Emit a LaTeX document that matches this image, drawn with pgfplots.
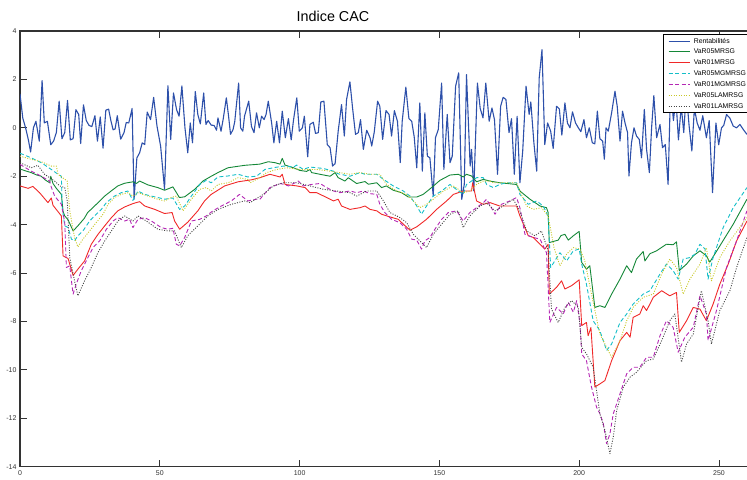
\documentclass[border=0pt]{standalone}
\usepackage{pgfplots}
\pgfplotsset{compat=1.18}
\usepackage{fontspec}
\setmainfont{Liberation Sans}
\definecolor{cblue}{RGB}{45,80,170}
\definecolor{cgreen}{RGB}{20,135,55}
\definecolor{cred}{RGB}{240,40,40}
\definecolor{ccyan}{RGB}{20,190,200}
\definecolor{cmag}{RGB}{180,40,180}
\definecolor{cyel}{RGB}{200,200,40}
\definecolor{cgray}{RGB}{70,70,70}
\begin{document}
\begin{tikzpicture}
\begin{axis}[
  at={(20bp,13.3bp)}, anchor=south west,
  scale only axis, width=754.9bp, height=435.7bp,
  xmin=0, xmax=270, ymin=-14, ymax=4,
  xtick={0,50,...,250}, ytick={-14,-12,...,4},
  tick align=inside, major tick length=7bp,
  axis line style={line width=1.3bp, black!80},
  every tick/.style={black!80, line width=0.8bp},
  tick label style={font=\fontsize{7}{8}\selectfont, black!80},
  /pgf/number format/assume math mode=true,
  title={Indice CAC},
  title style={at={(axis description cs:0.4146,1)}, anchor=south, yshift=0bp, font=\fontsize{14.4}{16}\selectfont},
  legend cell align=left,
  legend image code/.code={\draw[#1, line width=1bp] (0bp,0bp) -- (21.6bp,0bp);},
  legend style={at={(axis description cs:0.8518,0.993)}, anchor=north west, draw=black, line width=1bp, fill=white,
    font=\fontsize{6.9}{8}\selectfont, inner xsep=4.7bp, inner ysep=3bp,
    nodes={inner sep=0pt, text height=5.5bp, text depth=1.5bp}, row sep=3.9bp, column sep=3bp},
  every axis plot/.append style={line join=round},
]
\addplot[cblue, line width=1.1bp] coordinates {
(0,1.4)(1,0.4)(2,0.0)(3,-0.5)(3.8,-1.0)(4.8,0.0)(5.7,0.27)(6.9,-0.55)(7.9,1.95)(8.7,0.2)(9.8,0.27)(11,-0.7)(12,-0.55)(13,-0.2)(14,1.1)(15,-0.45)(16,-0.2)(17,1.13)(18,-0.5)(19,-0.45)(20,0.75)(21,0.55)(21.7,-0.65)(22.7,0.95)(23.7,0.3)(24.7,0.1)(25.7,0.05)(26.8,0.5)(27.7,-0.55)(28.7,0.45)(29.7,-0.84)(30.7,0.73)(31.7,0.77)(32.5,0.3)(33.3,-0.08)(34,-0.05)(34.8,0.5)(36,-0.47)(37.2,-0.2)(38,0.22)(38.9,0.2)(40.1,0.8)(40.8,-2.95)(41.8,-1.24)(42.8,-1.03)(43.7,-0.62)(44.6,-0.69)(45.5,0.65)(46.7,0.34)(47.8,1.26)(49,0.07)(50.3,-0.76)(51.7,-2.54)(52.9,1.74)(53.9,-0.48)(54.9,1.44)(56,0.75)(56.9,0.48)(57.9,1.73)(59,0.0)(60,-1.03)(60.9,0.2)(61.7,-0.62)(62.7,1.5)(63.6,0.55)(64.5,0.16)(65.7,1.44)(66.5,0.14)(67.3,0.3)(68.4,0.11)(69.4,0.1)(70.3,-0.1)(70.8,0.41)(71.9,-0.14)(72.7,0.38)(73.8,1.24)(74.6,0.48)(75.3,-0.27)(76.2,-0.07)(76.8,0.25)(78.2,1.85)(78.9,0.0)(79.7,-0.14)(80.3,0.48)(81.8,1.1)(82.8,0.05)(83.7,-0.2)(84.6,0.62)(85.6,0.0)(86.4,0.48)(87.3,0.34)(88,0.55)(88.8,1.1)(90,0.2)(90.8,-0.62)(91.8,0.27)(92.8,-0.62)(93.8,0.69)(94.9,-0.41)(96,0.38)(97,-0.5)(97.8,0.3)(99,1.24)(99.9,-0.14)(101,0.0)(101.7,0.48)(102.9,-1.2)(103.7,0.14)(104.9,0.23)(105.7,-0.23)(106.7,-0.2)(107.6,1.07)(108.7,1.1)(109.9,-0.69)(110.9,-0.82)(111.8,-1.58)(112.7,-1.48)(113.8,-0.14)(115,0.96)(116,-0.34)(116.8,1.17)(118,1.9)(119,0.76)(120,-0.27)(121,-0.2)(121.8,0.34)(122.8,-0.89)(124,-0.1)(125.2,-0.41)(125.8,-0.75)(126.7,-0.18)(127.9,1.1)(128.7,0.89)(129.7,-0.48)(130.9,0.71)(132,0.55)(132.9,-0.34)(133.9,0.71)(135,0.27)(136,-1.44)(136.7,0.27)(138,1.68)(139.1,0.38)(140.1,0.27)(141,-0.38)(141.9,-1.65)(143,1.03)(143.9,-1.79)(144.8,0.62)(145.7,-1.17)(146.6,-1.24)(147.8,-2.82)(148.6,-0.41)(149.6,-0.07)(150.8,1.85)(151.6,-1.72)(152.8,0.55)(153.8,-1.44)(154.6,-1.17)(155.8,1.72)(156.9,2.27)(158,-2.95)(158.9,-2.34)(159.7,2.2)(161,-1.58)(161.5,-0.89)(162.3,-2.6)(163.6,1.85)(164.6,0.8)(165.6,0.41)(166.6,1.85)(167.8,0.27)(168.8,0.82)(169.7,0.34)(170.8,-1.92)(171.9,0.89)(172.8,1.26)(173.8,1.17)(174.9,-0.2)(175.8,0.38)(176.8,-1.92)(177.8,0.48)(178.8,-2.27)(179.8,-0.96)(181,1.72)(182.1,0.55)(182.7,1.07)(183.8,-0.62)(184.8,-1.79)(185.7,2.06)(186.7,3.23)(187.7,-0.69)(188.7,0.2)(189.8,-0.14)(190.7,-0.85)(191.9,0.89)(192.9,0.78)(193.8,-0.3)(194.9,1.03)(195.8,0.2)(196.7,0.0)(197.6,0.66)(198.7,0.2)(199.7,0.0)(200.6,-0.16)(201.7,0.34)(202.6,-0.41)(203.6,0.0)(204.7,-0.62)(205.6,-0.66)(206.5,0.69)(207.4,-0.45)(208.4,-0.55)(209,-1.3)(209.6,0.0)(210.4,-0.14)(211.6,0.62)(212.8,1.51)(213.6,0.89)(214.6,-0.55)(215.5,0.69)(216.4,0.2)(217.3,-0.2)(217.8,-1.99)(218.7,-0.62)(219.6,0.0)(220.5,-0.34)(221.5,-0.48)(222.3,-1.24)(223.3,0.76)(224.1,-0.89)(225.1,-1.85)(225.9,0.0)(226.7,1.33)(227.7,-0.41)(228.9,0.14)(229.8,-0.82)(230.8,-0.69)(231.8,-2.34)(232.7,1.72)(233.7,0.3)(234.6,1.2)(235.5,-0.5)(236.5,0.9)(237.4,-0.2)(238.3,1.5)(239.3,0.1)(240.3,-0.96)(241.2,0.8)(242.2,0.2)(243.2,-0.1)(244.2,0.5)(245.5,-0.41)(246.5,0.3)(247.7,-2.68)(248.9,0.2)(249.9,-0.7)(250.9,0.0)(251.7,0.1)(252.7,0.55)(253.9,0.4)(255.1,0.07)(256.3,0.0)(257.5,0.14)(258.7,-0.07)(260,-0.27)
};
\addlegendentry{Rentabilités}
\addplot[cgreen, line width=0.9bp] coordinates {
(0,-1.7)(2,-1.78)(4,-1.85)(6,-1.95)(7.6,-2.0)(9,-2.15)(10.6,-2.27)(11,-2.0)(11.8,-2.3)(13,-2.5)(14.8,-2.75)(15.4,-3.45)(16,-3.64)(17.2,-3.8)(19,-4.26)(20.7,-4.05)(23,-3.74)(24.2,-3.5)(25.5,-3.36)(27.3,-3.16)(30.3,-2.82)(32.7,-2.6)(35,-2.4)(37.4,-2.29)(40.4,-2.23)(41.6,-2.3)(42.8,-2.2)(45.8,-2.36)(49.3,-2.47)(51.7,-2.58)(54.7,-2.44)(57,-2.88)(58.9,-2.85)(62.5,-2.54)(65.4,-2.2)(68.4,-2.0)(70.8,-1.85)(74.4,-1.65)(80.3,-1.55)(85.8,-1.5)(88.8,-1.4)(91.2,-1.44)(93,-1.5)(93.8,-1.26)(94.8,-1.54)(97.8,-1.65)(100.1,-1.76)(102.5,-1.8)(103.7,-1.72)(104.3,-1.85)(107.3,-1.92)(110.9,-2.0)(112.7,-1.85)(113.8,-2.06)(116.2,-2.2)(117.4,-2.06)(120.4,-2.3)(123.4,-2.22)(124.6,-2.33)(127.6,-2.27)(129.3,-2.47)(131,-2.4)(133.5,-2.58)(136.5,-2.68)(138.9,-2.86)(141.9,-2.86)(144.2,-2.75)(147.2,-2.47)(150.2,-2.17)(153.8,-1.95)(156.8,-1.92)(158.5,-2.03)(159.7,-1.92)(161.5,-1.99)(163.3,-2.23)(165.7,-2.13)(168.1,-2.2)(171.6,-2.27)(177.6,-2.34)(178.8,-2.61)(182.4,-2.95)(186,-3.23)(188.3,-3.3)(188.9,-3.5)(189.3,-4.74)(192.5,-4.64)(193.5,-4.45)(194.9,-4.4)(196.1,-4.64)(197.9,-4.46)(200,-4.28)(200.9,-5.56)(202.6,-5.84)(203.8,-5.7)(205.6,-7.42)(207.4,-7.35)(209.2,-7.42)(211.6,-6.87)(214.6,-6.25)(217,-5.7)(218.7,-5.98)(220.5,-5.42)(222.9,-5.11)(223.5,-5.5)(225.3,-5.2)(227.7,-5.08)(231.2,-4.81)(233.6,-4.83)(234.8,-4.71)(235.8,-5.9)(238.4,-5.63)(240.8,-5.29)(243.2,-5.08)(245.5,-5.29)(246.7,-5.55)(250.3,-4.88)(255.1,-3.98)(260,-2.95)
};
\addlegendentry{VaR05MRSG}
\addplot[cred, line width=0.9bp] coordinates {
(0,-2.4)(2.9,-2.5)(4.6,-2.42)(7,-2.68)(10,-3.09)(11.2,-2.9)(11.8,-3.2)(14.8,-3.64)(15.4,-5.29)(17.2,-5.4)(19,-6.1)(20.7,-5.84)(23.1,-5.5)(25.5,-4.81)(27.9,-4.4)(30.3,-4.05)(32.7,-3.71)(35,-3.43)(37.4,-3.27)(40.4,-3.13)(42.8,-3.05)(44.6,-3.23)(48.2,-3.37)(51.7,-3.54)(54.4,-3.5)(55.3,-3.85)(57.1,-4.19)(60,-3.9)(63.6,-3.43)(66,-3.02)(68.4,-2.75)(73.2,-2.4)(78,-2.23)(82.7,-2.15)(85.8,-2.06)(89.4,-1.92)(93,-2.03)(93.8,-1.92)(94.8,-2.34)(99,-2.4)(102,-2.47)(103.7,-2.68)(106.1,-2.68)(109.7,-2.88)(112.1,-3.02)(113.8,-2.95)(115,-3.23)(118,-3.37)(121.6,-3.3)(123.4,-3.23)(125.2,-3.37)(127.6,-3.43)(129.3,-3.57)(132.3,-3.68)(135.3,-3.78)(137.1,-3.98)(139.5,-4.23)(141.9,-4.09)(145.4,-3.78)(149,-3.37)(152.6,-3.02)(155,-2.75)(158.5,-2.61)(161.5,-2.61)(161.9,-2.27)(163.3,-3.02)(165.7,-3.16)(168.1,-3.09)(171.6,-3.23)(174,-3.23)(177.6,-3.23)(178.8,-3.64)(181.8,-4.46)(183.6,-4.53)(186,-4.81)(187.7,-5.01)(188.9,-4.81)(189.3,-6.87)(191.9,-6.59)(193.7,-6.32)(194.9,-6.66)(197.3,-6.52)(200,-6.28)(200.9,-8.17)(202.6,-8.04)(203.2,-8.59)(204.2,-8.25)(205.6,-10.71)(207.4,-10.58)(209.2,-10.44)(211.6,-9.62)(214.6,-8.79)(217,-8.45)(218.2,-8.65)(219.3,-7.83)(221.7,-7.69)(222.9,-7.35)(224.1,-7.55)(226.5,-7.0)(229.5,-6.73)(232.4,-6.94)(234.8,-6.8)(235.8,-8.45)(238.4,-7.97)(240.8,-7.42)(243.2,-7.49)(245.5,-7.97)(247.9,-7.28)(250.3,-6.46)(253.3,-5.63)(256.3,-4.67)(260,-3.85)
};
\addlegendentry{VaR01MRSG}
\addplot[ccyan, line width=0.9bp, dash pattern=on 4bp off 2.5bp] coordinates {
(0,-1.05)(4,-1.24)(7.6,-1.44)(11.2,-1.72)(13.6,-1.92)(14.8,-2.0)(15.1,-3.3)(16,-4.05)(17.2,-4.12)(18.4,-4.6)(19.5,-4.67)(20.7,-4.46)(22.5,-4.26)(24.9,-3.85)(27.3,-3.57)(29.1,-3.37)(30.9,-3.09)(33.8,-2.82)(36.2,-2.68)(38.6,-2.61)(40.4,-3.0)(42.2,-2.61)(44.6,-2.75)(47,-2.82)(49.3,-2.88)(51.7,-2.95)(54.7,-2.9)(57.1,-3.37)(58.9,-3.23)(61.3,-2.82)(64.3,-2.34)(66.6,-2.17)(68.4,-2.27)(70.8,-2.03)(74.4,-1.99)(78,-1.92)(81.5,-2.03)(84.6,-2.0)(87.6,-1.72)(90.6,-1.65)(94.2,-1.58)(97.8,-1.62)(99,-1.54)(101.3,-1.72)(103.7,-1.62)(108.5,-1.68)(112.1,-1.79)(113.8,-1.9)(118,-2.0)(121.6,-1.85)(123.4,-1.92)(127.6,-1.92)(130,-2.13)(133.5,-2.4)(137.1,-2.61)(139.5,-2.82)(141.9,-3.23)(143.6,-3.57)(145.4,-3.23)(147.8,-2.82)(150.8,-2.61)(153.8,-2.34)(156.8,-2.61)(158.5,-2.75)(159.7,-2.34)(163.3,-2.06)(165.7,-2.06)(166.9,-2.34)(169.3,-2.47)(171.6,-2.34)(174,-2.27)(177.6,-2.27)(178.8,-2.75)(181.8,-3.16)(184.8,-3.02)(187.1,-3.23)(188.3,-3.5)(188.9,-3.71)(189.8,-5.77)(193.1,-5.16)(195.5,-5.5)(197.9,-5.08)(200,-5.01)(200.9,-5.63)(202.6,-6.46)(205,-7.97)(207.4,-8.38)(209.8,-9.2)(211.6,-8.93)(214.6,-8.04)(217,-7.69)(219.3,-7.28)(222.9,-6.87)(225.3,-6.73)(228.9,-6.04)(231.2,-5.63)(233.6,-5.9)(235.4,-6.25)(237.2,-5.42)(239.6,-5.36)(241.4,-5.22)(243.2,-4.81)(245,-5.0)(246.1,-6.25)(247.9,-5.36)(251.5,-4.12)(255.1,-3.3)(260,-2.47)
};
\addlegendentry{VaR05MGMRSG}
\addplot[cmag, line width=0.9bp, dash pattern=on 4bp off 2.5bp] coordinates {
(0,-1.51)(4,-1.79)(7.6,-2.0)(10.6,-2.2)(11.2,-2.45)(12.4,-2.82)(14.8,-3.16)(16,-3.91)(16.6,-5.77)(17.8,-5.7)(18.4,-6.32)(19,-6.87)(20.1,-6.46)(21.9,-5.91)(24.3,-5.36)(26.1,-4.95)(28.5,-4.67)(30.9,-4.19)(33.3,-3.85)(35,-3.71)(37.4,-3.85)(39.2,-3.78)(40.4,-4.12)(42.2,-3.78)(44.6,-3.71)(47,-3.85)(50.5,-4.12)(52.9,-4.19)(54.7,-4.15)(55.9,-4.81)(57.1,-4.88)(58.9,-4.53)(61.3,-3.85)(64.3,-3.78)(66.6,-3.64)(69,-3.43)(72,-3.23)(75.6,-3.02)(78.5,-2.75)(81.5,-3.02)(84.5,-2.95)(85.8,-2.95)(89.4,-2.47)(93,-2.3)(94.2,-2.33)(96,-2.4)(98.4,-2.27)(99.5,-2.2)(101.3,-2.4)(104.3,-2.34)(107.3,-2.3)(109.7,-2.47)(112.1,-2.61)(114.4,-2.68)(118,-2.61)(120.4,-2.68)(122.8,-2.61)(125.2,-2.72)(127.6,-2.75)(128.7,-3.16)(130.5,-3.5)(132.9,-3.78)(135.9,-3.92)(138.3,-4.19)(140.1,-4.6)(141.9,-4.64)(143.6,-5.01)(144.8,-4.67)(146.6,-4.53)(148.4,-4.19)(150.8,-3.78)(153.2,-3.5)(156.2,-3.43)(158.5,-3.85)(160.9,-3.5)(163.3,-3.3)(165.7,-3.09)(166.9,-2.95)(169.9,-3.57)(172.2,-3.16)(175.2,-3.02)(177.6,-2.88)(178.8,-3.3)(180.6,-4.4)(183.6,-4.53)(186,-4.6)(188.3,-5.16)(189.5,-8.04)(191.9,-7.42)(194.3,-7.69)(196.1,-7.2)(197.9,-7.62)(199.1,-7.14)(200.3,-8.1)(200.9,-9.34)(202.6,-9.62)(204.4,-10.71)(206.2,-11.54)(207.4,-11.81)(208.6,-12.2)(209.8,-13.05)(211,-12.64)(212.2,-11.81)(214.6,-10.99)(217,-10.16)(219.3,-9.89)(221.7,-9.89)(224.1,-9.48)(226.5,-9.48)(228.9,-8.59)(231.2,-7.97)(233.6,-8.24)(235.4,-9.27)(237.8,-8.65)(240.8,-8.24)(243.2,-6.94)(245.5,-7.69)(246.1,-8.79)(249.1,-7.55)(252.7,-5.77)(256.3,-4.67)(260,-3.43)
};
\addlegendentry{VaR01MGMRSG}
\addplot[cyel, line width=0.9bp, dash pattern=on 1bp off 1.5bp] coordinates {
(0,-1.17)(4,-1.3)(7.6,-1.4)(11.2,-1.58)(13,-1.58)(13.6,-1.92)(16.9,-2.2)(17.8,-3.43)(19.5,-4.53)(20.7,-4.92)(22.5,-4.6)(24.9,-4.26)(27.3,-3.91)(29.7,-3.57)(31.5,-3.16)(33.8,-2.88)(36.2,-2.75)(38.6,-2.68)(40.4,-2.82)(42.2,-2.68)(45.8,-2.82)(49.3,-2.95)(51.7,-3.02)(54.1,-2.88)(55.9,-2.82)(58.3,-3.43)(61.3,-2.95)(64.3,-2.54)(66.6,-2.47)(68.4,-2.61)(70.8,-2.34)(74.4,-2.27)(78,-2.06)(81.5,-2.13)(82.3,-2.27)(85.8,-2.06)(88.2,-1.85)(91.8,-1.72)(95.4,-1.65)(100.1,-1.72)(106.1,-1.72)(110.9,-1.79)(114.4,-1.85)(118,-1.92)(121.6,-1.85)(125.2,-1.92)(128.7,-1.92)(131.1,-2.34)(134.7,-2.61)(138.3,-2.75)(140.7,-3.02)(143,-3.3)(145.4,-3.16)(147.8,-2.95)(151.4,-2.61)(155,-2.4)(158.5,-2.68)(161,-2.61)(163.3,-2.34)(165.7,-2.2)(168.1,-2.2)(169.3,-2.27)(174,-2.27)(177.6,-2.27)(178.8,-2.61)(181.2,-3.23)(183.6,-3.37)(186.5,-3.3)(188.9,-3.64)(191,-4.95)(193.1,-5.7)(195.5,-5.22)(197.9,-4.95)(200.3,-5.01)(202,-5.49)(204.4,-6.87)(207.4,-8.52)(209.8,-9.07)(211.6,-9.48)(214.6,-8.79)(217,-7.97)(219.3,-7.42)(222.9,-7.0)(226.5,-6.87)(229.5,-6.04)(232.4,-5.42)(234.8,-5.77)(237.2,-6.87)(239.6,-6.25)(243.2,-5.63)(245.5,-4.95)(247.3,-6.32)(250.3,-5.36)(253.9,-4.67)(260,-3.71)
};
\addlegendentry{VaR05LAMRSG}
\addplot[cgray, line width=0.9bp, dash pattern=on 1bp off 1.5bp] coordinates {
(0,-1.44)(4,-1.65)(6.4,-1.55)(8.8,-1.92)(12.4,-2.2)(14.2,-2.4)(16,-2.47)(16.9,-3.02)(17.8,-5.36)(19.5,-6.32)(20.7,-6.94)(23.1,-6.32)(25.5,-5.77)(27.9,-5.15)(30.3,-4.67)(32.7,-4.26)(35,-3.85)(37.4,-3.64)(40.4,-3.85)(42.2,-3.64)(45.2,-3.85)(49.3,-4.19)(52.9,-4.26)(55.3,-4.26)(57.7,-4.95)(60,-4.46)(63.6,-4.05)(67.2,-3.64)(70.8,-3.37)(75.6,-3.16)(80.3,-3.02)(82.3,-3.09)(87,-2.75)(90.6,-2.4)(94.2,-2.27)(99,-2.27)(103.7,-2.4)(108.5,-2.54)(113.3,-2.61)(118,-2.68)(120.4,-2.82)(124,-2.61)(127.6,-2.61)(130,-3.02)(132.3,-3.5)(135.9,-3.71)(138.3,-3.92)(140.7,-4.4)(143,-4.67)(145.4,-4.95)(147.8,-4.4)(150.8,-3.98)(153.8,-3.57)(156.8,-3.43)(158.5,-4.12)(160.9,-3.64)(164.5,-3.23)(166.9,-3.1)(169.9,-3.43)(172.8,-3.23)(176.4,-2.95)(178.8,-3.43)(181.2,-4.26)(184.2,-4.46)(186.5,-4.26)(188.9,-5.08)(190.1,-7.49)(192.5,-8.04)(194.9,-7.42)(197.3,-7.14)(199.7,-7.42)(200.9,-9.07)(202.6,-9.34)(205,-9.89)(207.4,-11.81)(209.2,-12.5)(211,-13.46)(212.2,-12.77)(213.4,-11.68)(215.8,-10.71)(218.2,-10.3)(220.5,-10.1)(224.1,-9.62)(226.5,-9.55)(229.5,-8.79)(232.4,-7.97)(234.2,-7.69)(236.6,-9.68)(238.4,-8.93)(240.8,-8.52)(243.7,-6.73)(246.1,-7.97)(247.3,-8.93)(250.3,-7.55)(253.9,-6.73)(256.3,-5.77)(260,-4.53)
};
\addlegendentry{VaR01LAMRSG}
\end{axis}
\pgfresetboundingbox
\useasboundingbox (0bp,0bp) rectangle (747bp,480bp);
\end{tikzpicture}
\end{document}
